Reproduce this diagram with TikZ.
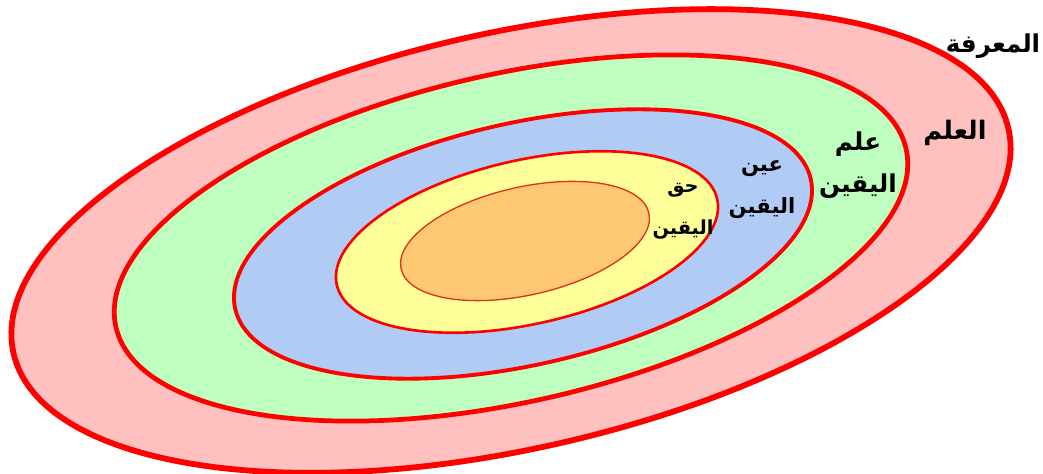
\documentclass[tikz,border=0pt]{standalone}
\usepackage{fontspec}
\TeXXeTstate=1
\newfontfamily\arabicfont[Script=Arabic]{DejaVu Sans}
\definecolor{ringpink}{HTML}{FFC0C0}
\definecolor{ringgreen}{HTML}{BEFFC0}
\definecolor{ringblue}{HTML}{B0CCF5}
\definecolor{ringyellow}{HTML}{FFFF99}
\definecolor{ringorange}{HTML}{FFC872}
\definecolor{coreline}{HTML}{E0301A}
\begin{document}
\begin{tikzpicture}[x=0.2mm,y=0.2mm,
    ring/.style={draw=red,line width=#1},
    lbl/.style={align=center,inner sep=0pt,font=\arabicfont\bfseries\fontsize{#1}{24}\selectfont}]
    \useasboundingbox (0,0) rectangle (1043,474);

    % nested rings, outside in
    \coordinate (c1) at (511,233);
    \coordinate (c2) at (511,236);
    \coordinate (c3) at (523,230);
    \coordinate (c4) at (527,232);
    \coordinate (c5) at (525,233);
    \draw[ring=3.3pt,fill=ringpink] (c1) circle[x radius=510,y radius=208,rotate=12.7];
    \draw[ring=2.7pt,fill=ringgreen] (c2) circle[x radius=405,y radius=164,rotate=12.7];
    \draw[ring=2.2pt,fill=ringblue] (c3) circle[x radius=295,y radius=121,rotate=12.7];
    \draw[ring=1.5pt,fill=ringyellow] (c4) circle[x radius=195,y radius=82,rotate=12.7];
    \draw[ring=0.75pt,draw=coreline,fill=ringorange] (c5) circle[x radius=127,y radius=54,rotate=12.7];

    % labels
    \node[lbl=14] (marifa) at (993,428) {\beginR المعرفة\endR};
    \node[lbl=14.5] (ilm) at (955,341) {\beginR العلم\endR};
    \node[lbl=14] (ilmy) at (858,309) {\beginR علم\endR\\\beginR اليقين\endR};
    \node[lbl=12] (ayny) at (762,284) {\beginR عين\endR\\\beginR اليقين\endR};
    \node[lbl=11] (haqqy) at (683,263) {\beginR حق\endR\\\beginR اليقين\endR};
\end{tikzpicture}
\end{document}
